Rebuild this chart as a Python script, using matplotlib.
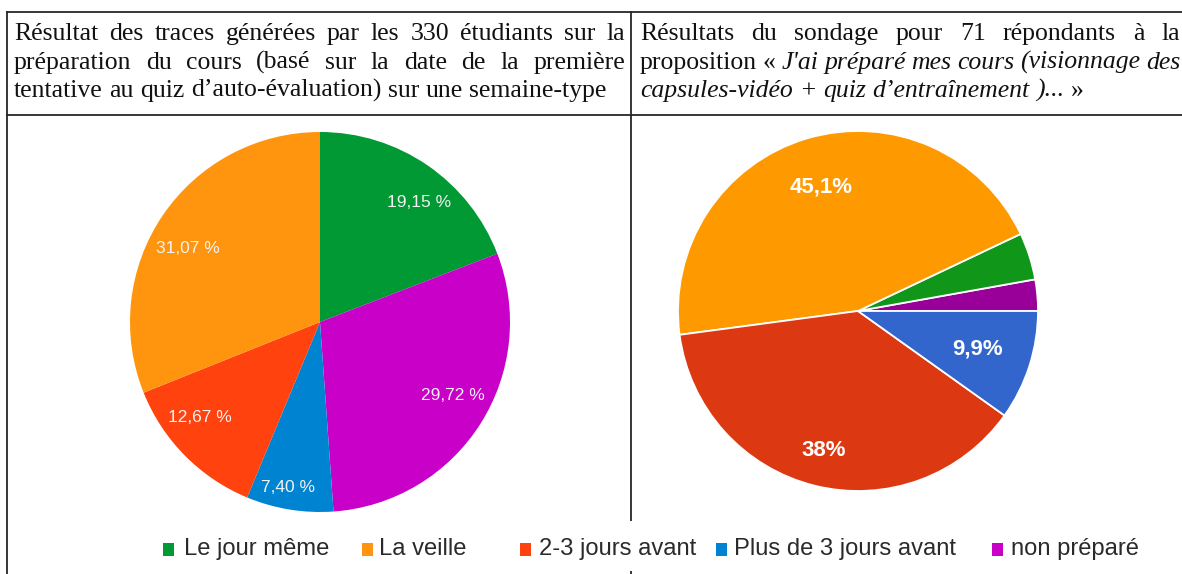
import numpy as np
import matplotlib
matplotlib.use("Agg")
import matplotlib.pyplot as plt
from matplotlib.lines import Line2D
from matplotlib.patches import Rectangle

# ---------------- data ----------------
legend_labels = ["Le jour même", "La veille", "2-3 jours avant", "Plus de 3 jours avant", "non préparé"]
legend_colors = ["#009933", "#ff950e", "#ff420e", "#0084d1", "#c800c8"]

# left pie (traces, %), clockwise from top
left_cats = ["Le jour même", "non préparé", "Plus de 3 jours avant", "2-3 jours avant", "La veille"]
left_values = [19.15, 29.72, 7.40, 12.67, 31.07]
left_colors = ["#009933", "#c800c8", "#0084d1", "#ff420e", "#ff950e"]

# right pie (survey, respondents count = 71), counter-clockwise from 3 o'clock
right_cats = ["non préparé", "Le jour même", "La veille", "2-3 jours avant", "Plus de 3 jours avant"]
right_counts = [2, 3, 32, 27, 7]
right_colors = ["#990099", "#109618", "#ff9900", "#dc3912", "#3366cc"]

left_header = [
    ("Résultat des traces générées par les 330 étudiants sur la", True),
    ("préparation du cours (basé sur la date de la première", True),
    ("tentative au quiz d’auto-évaluation) sur une semaine-type", False),
]
right_header = [
    ([("Résultats", "normal"), ("du", "normal"), ("sondage", "normal"), ("pour", "normal"),
      ("71", "normal"), ("répondants", "normal"), ("à", "normal"), ("la", "normal")], True),
    ([("proposition", "normal"), ("«", "normal"), ("J'ai", "italic"), ("préparé", "italic"),
      ("mes", "italic"), ("cours", "italic"), ("(visionnage", "italic"), ("des", "italic")], True),
    ([("capsules-vidéo", "italic"), ("+", "italic"), ("quiz", "italic"),
      ("d’entraînement", "italic"), (")...", "italic"), ("»", "normal")], False),
]

# ---------------- figure ----------------
W, H = 1182, 574
fig = plt.figure(figsize=(W / 100, H / 100), dpi=100)
fig.patch.set_facecolor("white")
renderer = fig.canvas.get_renderer()

def fx(x):
    return x / W

def fy(y):
    return 1 - y / H

def text_width(s, **kw):
    t = fig.text(0, 0, s, **kw)
    w = t.get_window_extent(renderer).width
    t.remove()
    return w

def fit_size(s, target, base=20, **kw):
    return base * target / text_width(s, fontsize=base, **kw)

# ---- table lines ----
lc = "#262626"
lw = 1.3
def hline(y, x0, x1):
    fig.add_artist(Line2D([fx(x0), fx(x1)], [fy(y), fy(y)], color=lc, lw=lw,
                          transform=fig.transFigure, zorder=1))
def vline(x, y0, y1):
    fig.add_artist(Line2D([fx(x), fx(x)], [fy(y0), fy(y1)], color=lc, lw=lw,
                          transform=fig.transFigure, zorder=1))

hline(12, 7, W + 5)
hline(115, 7, W + 5)
vline(7, 12, H + 5)
vline(631, 12, H + 5)

# ---- header text (justified) ----
serif = "Liberation Serif"
hsize = fit_size(left_header[2][0], 593, family=serif)
space_w = text_width("a a", family=serif, fontsize=hsize) - text_width("aa", family=serif, fontsize=hsize)
baselines = [40, 69, 97]

def draw_line(words, x0, x1, y, justify):
    widths = [text_width(w, family=serif, fontsize=hsize, style=st) for w, st in words]
    if justify and len(words) > 1:
        gap = (x1 - x0 - sum(widths)) / (len(words) - 1)
    else:
        gap = space_w
    x = x0
    for (w, st), wd in zip(words, widths):
        fig.text(fx(x), fy(y), w, family=serif, fontsize=hsize, style=st,
                 ha="left", va="baseline", color="#111111")
        x += wd + gap

for (line, just), y in zip(left_header, baselines):
    draw_line([(w, "normal") for w in line.split(" ")], 14, 625, y, just)
for (words, just), y in zip(right_header, baselines):
    draw_line(words, 640, 1180, y, just)

# ---- pies ----
sans = "Liberation Sans"

def pie_axes(cx, cy, r):
    ax = fig.add_axes([fx(cx - r), fy(cy + r), 2 * r / W, 2 * r / H])
    return ax

# left pie
axl = pie_axes(320, 322, 190)
wl, _ = axl.pie(left_values, colors=left_colors, startangle=90, counterclock=False,
                radius=1, wedgeprops=dict(linewidth=0))
axl.set_xlim(-1, 1); axl.set_ylim(-1, 1); axl.axis("off")
left_dist = [0.815, 0.80, 0.885, 0.805, 0.796]
left_ang_off = [-5.3, 3.6, -1.8, -6.2, 4.8]
for w, v, d, off in zip(wl, left_values, left_dist, left_ang_off):
    a = np.deg2rad((w.theta1 + w.theta2) / 2 + off)
    axl.text(d * np.cos(a), d * np.sin(a), f"{v:.2f}".replace(".", ",") + " %",
             ha="center", va="center", color="#f2f2f2", fontsize=12.5, family=sans)

# right pie
axr = pie_axes(858, 311, 180)
wr, _ = axr.pie(right_counts, colors=right_colors, startangle=0, counterclock=True,
                radius=1, wedgeprops=dict(linewidth=1.3, edgecolor="white"))
axr.set_xlim(-1, 1); axr.set_ylim(-1, 1); axr.axis("off")
tot = sum(right_counts)
right_dist = [0.73, 0.73, 0.72, 0.80, 0.70]
for w, c, d in zip(wr, right_counts, right_dist):
    p = 100 * c / tot
    if p < 5:
        continue
    s = f"{p:.1f}".rstrip("0").rstrip(".").replace(".", ",") + "%"
    a = np.deg2rad((w.theta1 + w.theta2) / 2)
    axr.text(d * np.cos(a), d * np.sin(a), s, ha="center", va="center",
             color="white", fontsize=16, family=sans, weight="bold")

# ---- legend (white strip over the table) ----
fig.add_artist(Rectangle((fx(150), fy(571)), fx(1160) - fx(150), (571 - 521) / H,
                         transform=fig.transFigure, facecolor="white", edgecolor="none", zorder=2))
lsize = fit_size("Plus de 3 jours avant", 222, family=sans)
sq_x = [163, 362, 520, 716, 992]
tx_x = [184, 379, 539, 734, 1011]
ly = 549
sq = 11
for lab, col, sx, tx in zip(legend_labels, legend_colors, sq_x, tx_x):
    fig.add_artist(Rectangle((fx(sx), fy(ly + sq / 2 + 1)), sq / W, (sq + 2) / H, transform=fig.transFigure,
                             facecolor=col, edgecolor="none", zorder=3))
    t = fig.text(fx(tx), fy(ly), lab, family=sans, fontsize=lsize, ha="left", va="center",
                 color="#2a2a2a")
    t.set_zorder(3)

fig.savefig("out.png", dpi=100, facecolor="white")
